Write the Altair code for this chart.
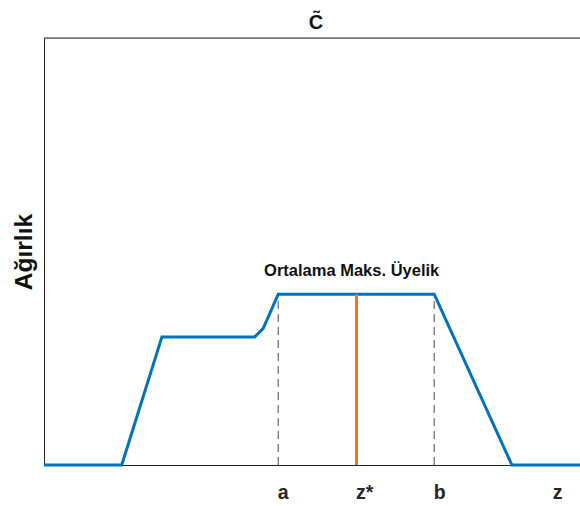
import altair as alt
import pandas as pd

# Aggregated output membership function (universe 0..10, weight 0..1)
curve_z = [0, 1.45, 2.2, 3.93, 4.09, 4.37, 7.28, 8.73, 10]
curve_mu = [0, 0, 0.3, 0.3, 0.32, 0.4, 0.4, 0, 0]

# Plateau bounds and defuzzified point
tick_pos = [4.37, 5.83, 7.28, 9.5]
tick_text = ["a", "z*", "b", "z"]
a_val, zstar_val, b_val = 4.37, 5.83, 7.28
plateau = 0.4

note_text = "Ortalama Maks. Üyelik"
note_x, note_y = 5.74, 0.443

FONT = "Liberation Sans"
x_scale = alt.Scale(domain=[0, 10], nice=False, zero=False)
y_scale = alt.Scale(domain=[0, 1], nice=False, zero=False)

curve_df = pd.DataFrame({"z": curve_z, "mu": curve_mu})
dash_df = pd.DataFrame({"z": [a_val, b_val], "lo": [0, 0], "hi": [plateau, plateau]})
zstar_df = pd.DataFrame({"z": [zstar_val], "lo": [0], "hi": [plateau]})
note_df = pd.DataFrame({"z": [note_x], "mu": [note_y], "t": [note_text]})
label_expr = "{" + ",".join(f"'{v}':'{t}'" for v, t in zip(tick_pos, tick_text)) + "}[datum.value]"

x_axis = alt.Axis(
    values=tick_pos, labelExpr=label_expr, ticks=False, grid=False,
    domain=True, domainColor="#222222", domainWidth=1,
    labelFont=FONT, labelFontSize=19.5, labelFontWeight="bold", labelColor="#262626",
    labelAlign="left", labelBaseline="alphabetic", labelPadding=33, labelOffset=-1,
    title=None,
)
y_axis = alt.Axis(
    values=[], ticks=False, labels=False, grid=False,
    domain=True, domainColor="#222222", domainWidth=1,
    title="Ağırlık", titleFont=FONT, titleFontSize=24.5, titleFontWeight="bold",
    titleColor="#111111", titlePadding=8,
)

# top frame line at the upper limit of the weight axis
frame_top = alt.Chart(pd.DataFrame({"mu": [1.0]})).mark_rule(
    color="#222222", strokeWidth=1
).encode(y=alt.Y("mu:Q", scale=y_scale))

dashes = alt.Chart(dash_df).mark_rule(
    color="#666666", strokeWidth=1.2, strokeDash=[8, 5]
).encode(
    x=alt.X("z:Q", scale=x_scale, axis=x_axis),
    y=alt.Y("lo:Q", scale=y_scale, axis=y_axis),
    y2="hi:Q",
)

curve = alt.Chart(curve_df).mark_line(
    color="#0072BD", strokeWidth=3, strokeJoin="miter"
).encode(
    x=alt.X("z:Q", scale=x_scale),
    y=alt.Y("mu:Q", scale=y_scale),
)

zstar = alt.Chart(zstar_df).mark_rule(
    color="#FF6A33", strokeWidth=3
).encode(
    x=alt.X("z:Q", scale=x_scale),
    y=alt.Y("lo:Q", scale=y_scale),
    y2="hi:Q",
)

note = alt.Chart(note_df).mark_text(
    font=FONT, fontSize=16.5, fontWeight="bold", color="#111111",
    align="center", baseline="alphabetic",
).encode(
    x=alt.X("z:Q", scale=x_scale),
    y=alt.Y("mu:Q", scale=y_scale),
    text="t:N",
)

chart = alt.layer(dashes, frame_top, curve, zstar, note).properties(
    width=536,
    height=427,
    title=alt.TitleParams(
        "C\u0303", font=FONT, fontSize=20, fontWeight="bold", color="#111111",
        anchor="middle", baseline="alphabetic", frame="group", offset=11,
        dx=4, dy=22,
    ),
    autosize=alt.AutoSizeParams(type="none"),
    padding={"left": 44, "top": 38, "right": 0, "bottom": 41},
).configure_view(stroke=None).configure(background="white")

chart.save("out.html", embed_options={"renderer": "svg", "actions": False})
